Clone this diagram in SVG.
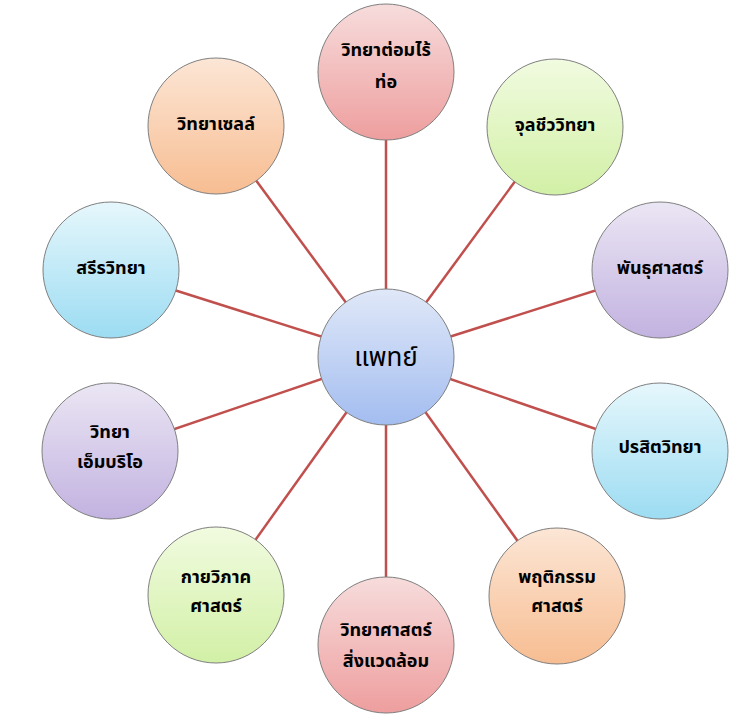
<svg xmlns="http://www.w3.org/2000/svg" width="751" height="720" viewBox="0 0 751 720">
<defs>
<linearGradient id="gRed" x1="0" y1="0" x2="0" y2="1"><stop offset="0" stop-color="#f7dcdc"/><stop offset="1" stop-color="#ee9e9e"/></linearGradient>
<linearGradient id="gOrange" x1="0" y1="0" x2="0" y2="1"><stop offset="0" stop-color="#fce6d6"/><stop offset="1" stop-color="#f7bd92"/></linearGradient>
<linearGradient id="gGreen" x1="0" y1="0" x2="0" y2="1"><stop offset="0" stop-color="#f1fbe0"/><stop offset="1" stop-color="#d2f0a6"/></linearGradient>
<linearGradient id="gCyan" x1="0" y1="0" x2="0" y2="1"><stop offset="0" stop-color="#e6f7fc"/><stop offset="1" stop-color="#9cdcf2"/></linearGradient>
<linearGradient id="gPurple" x1="0" y1="0" x2="0" y2="1"><stop offset="0" stop-color="#ebe6f4"/><stop offset="1" stop-color="#c2b2e0"/></linearGradient>
<linearGradient id="gBlue" x1="0" y1="0" x2="0" y2="1"><stop offset="0" stop-color="#e0e8f8"/><stop offset="1" stop-color="#a3bdf0"/></linearGradient>
</defs>
<style>
.c{stroke:#7f7f7f;stroke-width:1}
.l{stroke:#c0504d;stroke-width:2.5;fill:none}
.t{font-family:"Noto Sans Thai","Tahoma","DejaVu Sans","Noto Sans",sans-serif;font-weight:bold;font-size:18px;fill:#000;text-anchor:middle}
.tc{font-family:"Noto Sans Thai","Tahoma","DejaVu Sans","Noto Sans",sans-serif;font-size:26px;fill:#000;text-anchor:middle}
</style>
<g id="connectors">
<line class="l" x1="386" y1="357" x2="386" y2="72"/>
<line class="l" x1="386" y1="357" x2="555" y2="127"/>
<line class="l" x1="386" y1="357" x2="660" y2="270"/>
<line class="l" x1="386" y1="357" x2="660" y2="451"/>
<line class="l" x1="386" y1="357" x2="557" y2="596"/>
<line class="l" x1="386" y1="357" x2="386" y2="645"/>
<line class="l" x1="386" y1="357" x2="216" y2="595"/>
<line class="l" x1="386" y1="357" x2="110" y2="451"/>
<line class="l" x1="386" y1="357" x2="111" y2="270"/>
<line class="l" x1="386" y1="357" x2="216" y2="126"/>
</g>
<g id="n-endocrine"><circle class="c" cx="386" cy="72" r="68" fill="url(#gRed)"/><text class="t" x="386" y="56">วิทยาต่อมไร้</text><text class="t" x="386" y="88">ท่อ</text></g>
<g id="n-micro"><circle class="c" cx="555" cy="127" r="68" fill="url(#gGreen)"/><text class="t" x="555" y="131">จุลชีววิทยา</text></g>
<g id="n-genetics"><circle class="c" cx="660" cy="270" r="68" fill="url(#gPurple)"/><text class="t" x="660" y="274">พันธุศาสตร์</text></g>
<g id="n-parasit"><circle class="c" cx="660" cy="451" r="68" fill="url(#gCyan)"/><text class="t" x="660" y="453">ปรสิตวิทยา</text></g>
<g id="n-behavior"><circle class="c" cx="557" cy="596" r="68" fill="url(#gOrange)"/><text class="t" x="557" y="583">พฤติกรรม</text><text class="t" x="557" y="612">ศาสตร์</text></g>
<g id="n-env"><circle class="c" cx="386" cy="645" r="68" fill="url(#gRed)"/><text class="t" x="386" y="636">วิทยาศาสตร์</text><text class="t" x="386" y="667">สิ่งแวดล้อม</text></g>
<g id="n-anatomy"><circle class="c" cx="216" cy="595" r="68" fill="url(#gGreen)"/><text class="t" x="216" y="583">กายวิภาค</text><text class="t" x="216" y="612">ศาสตร์</text></g>
<g id="n-embryo"><circle class="c" cx="110" cy="451" r="68" fill="url(#gPurple)"/><text class="t" x="110" y="438">วิทยา</text><text class="t" x="110" y="468">เอ็มบริโอ</text></g>
<g id="n-physio"><circle class="c" cx="111" cy="270" r="68" fill="url(#gCyan)"/><text class="t" x="111" y="274">สรีรวิทยา</text></g>
<g id="n-cell"><circle class="c" cx="216" cy="126" r="68" fill="url(#gOrange)"/><text class="t" x="216" y="130">วิทยาเซลล์</text></g>
<g id="n-center"><circle class="c" cx="386" cy="357" r="68" fill="url(#gBlue)"/><text class="tc" x="386" y="366">แพทย์</text></g>
</svg>
